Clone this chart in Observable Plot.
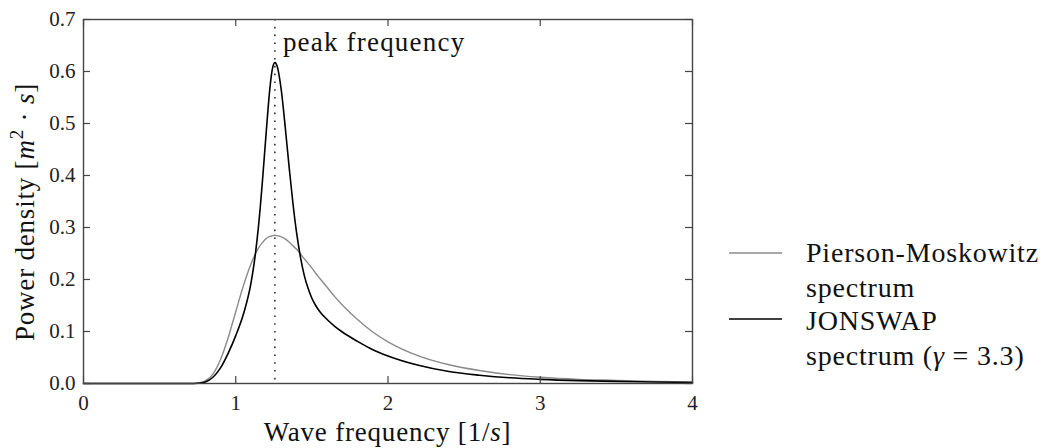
<!DOCTYPE html>
<html>
<head>
<meta charset="utf-8">
<script src="https://cdn.jsdelivr.net/npm/d3@7"></script>
<script src="https://cdn.jsdelivr.net/npm/@observablehq/plot@0.6"></script>
<style>
  html, body { margin: 0; padding: 0; background: #fff; }
  #chart svg { display: block; font-family: "Liberation Serif", "Times New Roman", Times, "DejaVu Serif", serif !important; }
  #chart svg text { font-family: "Liberation Serif", "Times New Roman", Times, "DejaVu Serif", serif; }
  .serif-label { letter-spacing: 0.8px; }
  #chart svg g[aria-label="text"] text { letter-spacing: 1.2px; }
</style>
</head>
<body>
<div id="chart"></div>
<script>
// Wave frequency ω [1/s] at which the two spectra are sampled
const frequency = [0, 0.5, 0.7, 0.75, 0.8, 0.85, 0.9, 0.95, 1.0, 1.05, 1.1, 1.125, 1.15, 1.175, 1.2, 1.225, 1.24, 1.257, 1.275, 1.29, 1.3, 1.325, 1.35, 1.375, 1.4, 1.425, 1.45, 1.475, 1.5, 1.525, 1.55, 1.6, 1.65, 1.7, 1.8, 1.9, 2.0, 2.2, 2.4, 2.6, 2.8, 3.0, 3.25, 3.5, 3.75, 4.0];

// Pierson-Moskowitz power density [m²·s]
const pmDensity = [0, 0, 0, 0.001, 0.005, 0.018, 0.046, 0.088, 0.138, 0.188, 0.230, 0.247, 0.261, 0.271, 0.279, 0.283, 0.284, 0.285, 0.284, 0.283, 0.282, 0.278, 0.272, 0.265, 0.258, 0.249, 0.240, 0.231, 0.222, 0.212, 0.203, 0.185, 0.167, 0.151, 0.123, 0.099, 0.080, 0.053, 0.036, 0.025, 0.017, 0.012, 0.008, 0.006, 0.004, 0.003];

// JONSWAP (γ = 3.3) power density [m²·s]
const jonswapDensity = [0, 0, 0, 0.0005, 0.003, 0.012, 0.030, 0.058, 0.092, 0.133, 0.193, 0.240, 0.304, 0.388, 0.483, 0.570, 0.604, 0.617, 0.607, 0.583, 0.562, 0.493, 0.418, 0.348, 0.289, 0.243, 0.208, 0.183, 0.164, 0.150, 0.139, 0.123, 0.110, 0.099, 0.081, 0.065, 0.053, 0.035, 0.023, 0.016, 0.011, 0.008, 0.0055, 0.004, 0.003, 0.002];

const peakFrequency = 1.257;
const xTicks = [0, 1, 2, 3, 4];
const yTicks = [0, 0.1, 0.2, 0.3, 0.4, 0.5, 0.6, 0.7];

const rows = frequency.map((f, i) => ({f, pm: pmDensity[i], js: jonswapDensity[i]}));

const W = 1051, H = 448;
const margin = {left: 83, right: 359, top: 19, bottom: 65};
const innerW = W - margin.left - margin.right;
const innerH = H - margin.top - margin.bottom;
const tickLen = 7;
const axisColor = "#444";

const chart = Plot.plot({
  width: W,
  height: H,
  marginLeft: margin.left,
  marginRight: margin.right,
  marginTop: margin.top,
  marginBottom: margin.bottom,
  style: {fontSize: "21px", color: "#222", background: "#fff"},
  x: {domain: [0, 4]},
  y: {domain: [0, 0.7]},
  marks: [
    // dotted marker at the spectral peak
    Plot.ruleX([peakFrequency], {x: d => d, stroke: "#000", strokeWidth: 1.3, strokeDasharray: "1.6,6.2"}),
    Plot.lineY(rows, {x: "f", y: "pm", stroke: "#8a8a8a", strokeWidth: 1.4, curve: "monotone-x"}),
    Plot.lineY(rows, {x: "f", y: "js", stroke: "#000", strokeWidth: 1.6, curve: "monotone-x"}),
    Plot.text(["peak frequency"], {
      x: () => peakFrequency, y: () => 0.7, text: d => d,
      textAnchor: "start", lineAnchor: "top", dx: 8, dy: 12,
      fontSize: 27, fill: "#111"
    }),
    // inward ticks on all four sides
    Plot.ruleX(xTicks, {x: d => d, insetTop: innerH - tickLen, stroke: axisColor, strokeWidth: 1.2}),
    Plot.ruleX(xTicks, {x: d => d, insetBottom: innerH - tickLen, stroke: axisColor, strokeWidth: 1.2}),
    Plot.ruleY(yTicks, {y: d => d, insetRight: innerW - tickLen, stroke: axisColor, strokeWidth: 1.2}),
    Plot.ruleY(yTicks, {y: d => d, insetLeft: innerW - tickLen, stroke: axisColor, strokeWidth: 1.2}),
    Plot.frame({stroke: axisColor, strokeWidth: 1.4}),
    Plot.axisX(xTicks, {tickSize: 0, tickPadding: 12, label: null, tickFormat: d => String(d)}),
    Plot.axisY(yTicks, {tickSize: 0, tickPadding: 8, label: null, tickFormat: d3.format(".1f")})
  ]
});

document.getElementById("chart").appendChild(chart);

const svg = d3.select(chart);

// x-axis title
const xt = svg.append("text")
  .attr("class", "serif-label")
  .attr("x", margin.left + innerW / 2)
  .attr("y", 441)
  .attr("text-anchor", "middle")
  .attr("font-size", 27)
  .attr("fill", "#111");
xt.append("tspan").text("Wave frequency [1/");
xt.append("tspan").attr("font-style", "italic").text("s");
xt.append("tspan").text("]");

// y-axis title
const yt = svg.append("text")
  .attr("class", "serif-label")
  .attr("transform", "translate(34,212) rotate(-90)")
  .attr("text-anchor", "middle")
  .attr("font-size", 27)
  .attr("fill", "#111");
yt.append("tspan").text("Power density [");
yt.append("tspan").attr("font-style", "italic").text("m");
yt.append("tspan").attr("font-size", 19).attr("dy", -11).text("2");
yt.append("tspan").attr("dy", 11).text(" · ");
yt.append("tspan").attr("font-style", "italic").text("s");
yt.append("tspan").text("]");

// legend
const legend = svg.append("g")
  .attr("class", "serif-label")
  .attr("font-size", 28)
  .attr("text-anchor", "start")
  .attr("fill", "#111");
const entries = [
  {stroke: "#8a8a8a", width: 1.4, lineY: 253, lines: [[{t: "Pierson-Moskowitz"}], [{t: "spectrum"}]], baseY: 262},
  {stroke: "#000", width: 1.6, lineY: 319, lines: [[{t: "JONSWAP"}], [{t: "spectrum ("}, {t: "γ", it: true}, {t: " = 3.3)"}]], baseY: 330}
];
entries.forEach(e => {
  legend.append("line")
    .attr("x1", 729).attr("x2", 782)
    .attr("y1", e.lineY).attr("y2", e.lineY)
    .attr("stroke", e.stroke).attr("stroke-width", e.width);
  e.lines.forEach((parts, k) => {
    const t = legend.append("text")
      .attr("x", 806)
      .attr("y", e.baseY + k * 35)
      .attr("text-anchor", "start");
    parts.forEach(p => {
      const s = t.append("tspan").text(p.t);
      if (p.it) s.attr("font-style", "italic");
    });
  });
});
</script>
</body>
</html>
